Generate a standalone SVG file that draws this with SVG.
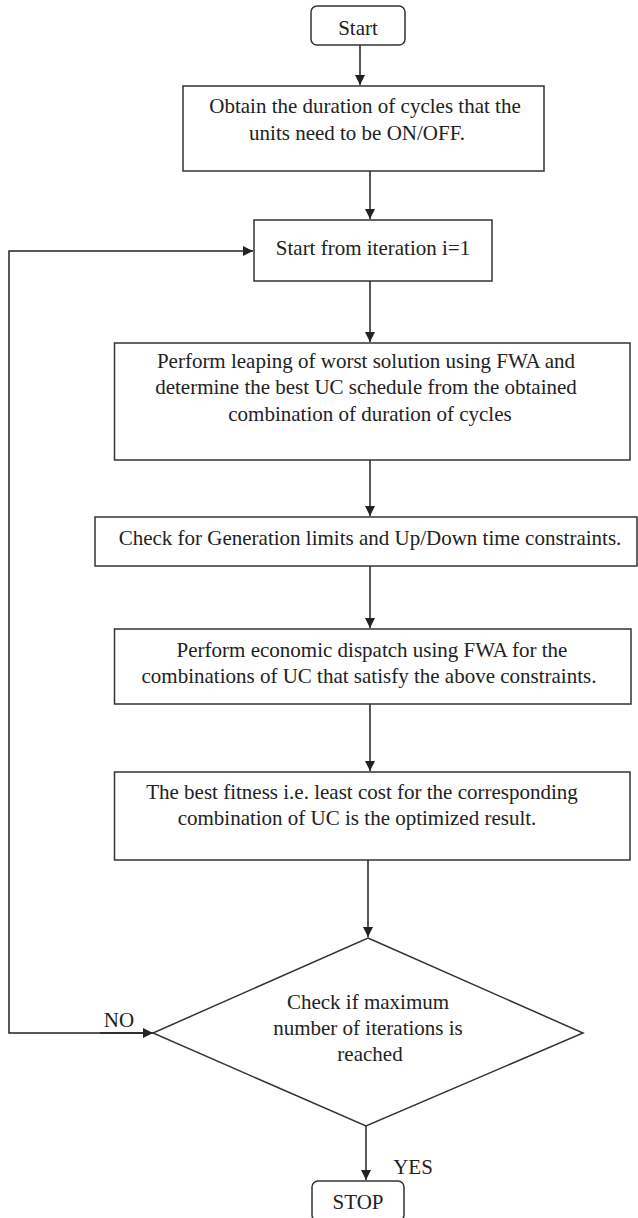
<svg xmlns="http://www.w3.org/2000/svg" width="638" height="1218" viewBox="0 0 638 1218">
<style>
  .box { fill: #ffffff; stroke: #333333; stroke-width: 1.5; }
  .conn { fill: none; stroke: #222222; stroke-width: 1.5; }
  text { font-family: "Liberation Serif", "Times New Roman", serif; font-size: 21px; fill: #222222; text-anchor: middle; }
</style>
<defs>
  <marker id="arrow" markerUnits="userSpaceOnUse" markerWidth="11" markerHeight="11" refX="10" refY="5" orient="auto">
    <path d="M0,0 L10,5 L0,10 z" fill="#222222"/>
  </marker>
</defs>
<rect width="638" height="1218" fill="#ffffff"/>

<g id="connectors">
  <line class="conn" x1="360" y1="45" x2="360" y2="85" marker-end="url(#arrow)"/>
  <line class="conn" x1="370" y1="171" x2="370" y2="219" marker-end="url(#arrow)"/>
  <line class="conn" x1="370" y1="281" x2="370" y2="342" marker-end="url(#arrow)"/>
  <line class="conn" x1="370" y1="460" x2="370" y2="516" marker-end="url(#arrow)"/>
  <line class="conn" x1="370" y1="566" x2="370" y2="628" marker-end="url(#arrow)"/>
  <line class="conn" x1="370" y1="704" x2="370" y2="771" marker-end="url(#arrow)"/>
  <line class="conn" x1="368" y1="860" x2="368" y2="937" marker-end="url(#arrow)"/>
  <line class="conn" x1="366" y1="1126" x2="366" y2="1180" marker-end="url(#arrow)"/>
  <polyline class="conn" points="153,1033 9,1033 9,251 253,251" marker-end="url(#arrow)"/>
  <line class="conn" x1="100" y1="1033" x2="153" y2="1033" marker-end="url(#arrow)"/>
  <text x="119" y="1027">NO</text>
  <text x="413" y="1174">YES</text>
</g>

<g id="start">
  <rect class="box" x="311" y="6" width="94" height="39" rx="6" ry="6"/>
  <text x="358" y="35">Start</text>
</g>

<g id="obtain">
  <rect class="box" x="183" y="86" width="361" height="85"/>
  <text x="365" y="113">Obtain the duration of cycles that the</text>
  <text x="357" y="140">units need to be ON/OFF.</text>
</g>

<g id="iteration">
  <rect class="box" x="254" y="220" width="238" height="61"/>
  <text x="373" y="255">Start from iteration i=1</text>
</g>

<g id="leaping">
  <rect class="box" x="114.5" y="343" width="515.5" height="117"/>
  <text x="366" y="368">Perform leaping of worst solution using FWA and</text>
  <text x="366" y="394">determine the best UC schedule from the obtained</text>
  <text x="370" y="421">combination of duration of cycles</text>
</g>

<g id="check">
  <rect class="box" x="95" y="517" width="542" height="49"/>
  <text x="370" y="545">Check for Generation limits and Up/Down time constraints.</text>
</g>

<g id="economic">
  <rect class="box" x="114.5" y="629" width="516.5" height="75"/>
  <text x="372" y="657">Perform economic dispatch using FWA for the</text>
  <text x="369" y="683">combinations of UC that satisfy the above constraints.</text>
</g>

<g id="fitness">
  <rect class="box" x="114.5" y="772" width="515.5" height="88"/>
  <text x="362" y="799">The best fitness i.e. least cost for the corresponding</text>
  <text x="357" y="825">combination of UC is the optimized result.</text>
</g>

<g id="decision">
  <polygon class="box" points="368,938 583,1033 366,1126 153,1033"/>
  <text x="368" y="1009">Check if maximum</text>
  <text x="368" y="1035">number of iterations is</text>
  <text x="370" y="1061">reached</text>
</g>

<g id="stop">
  <rect class="box" x="312" y="1181" width="92" height="40" rx="6" ry="6"/>
  <text x="358" y="1209">STOP</text>
</g>
</svg>
